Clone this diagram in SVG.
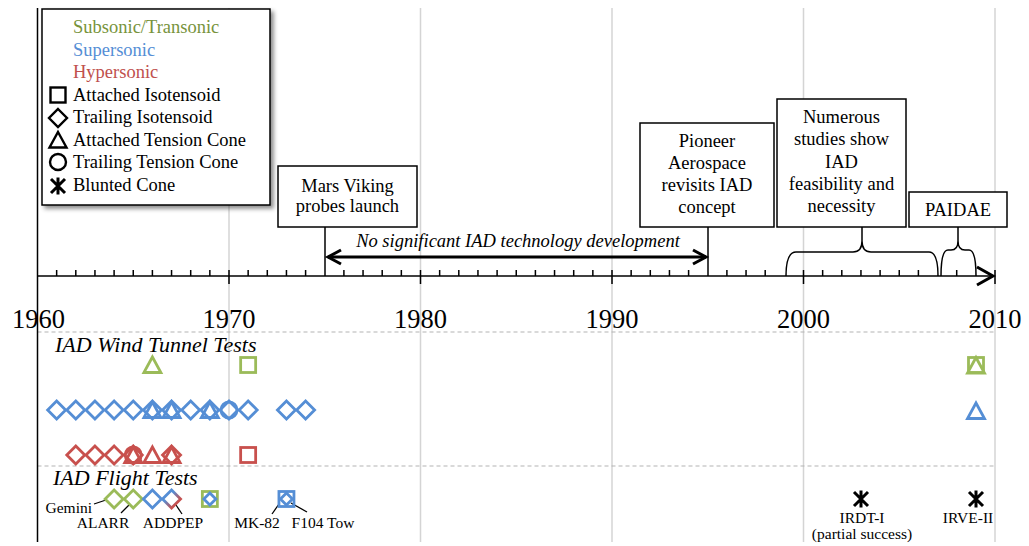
<svg xmlns="http://www.w3.org/2000/svg" xmlns:xlink="http://www.w3.org/1999/xlink" width="1029" height="546" viewBox="0 0 1029 546">
<style>
text{font-family:"Liberation Serif","Times New Roman",serif;fill:#000}
.lg{font-size:18.5px}
.bx{font-size:18.5px;text-anchor:middle}
.yr{font-size:26.5px;text-anchor:middle}
.it{font-style:italic}
.sec{font-size:22px;font-style:italic}
.lb{font-size:15.5px}
.mid{text-anchor:middle}
.grid{stroke:#d4d4d4;stroke-width:1.5;fill:none}
.dash{stroke:#b4b4b4;stroke-width:1.2;stroke-dasharray:4 3;fill:none}
.ax{stroke:#000;stroke-width:1.5;fill:none}
.box{fill:#fff;stroke:#000;stroke-width:1.5}
.g{stroke:#9BBB59;fill:none;stroke-width:2.8}
.b{stroke:#558ED5;fill:none;stroke-width:2.8}
.r{stroke:#C8504D;fill:none;stroke-width:2.8}
.k{stroke:#000;fill:none;stroke-width:2.4}
.ka{stroke:#000;fill:none;stroke-width:3}
.ldr{stroke:#000;stroke-width:1.3;fill:none}
</style>
<defs>
<filter id="sh" x="-10%" y="-10%" width="130%" height="130%">
<feDropShadow dx="3" dy="3" stdDeviation="2" flood-color="#000" flood-opacity="0.45"/>
</filter>
<linearGradient id="gr" x1="0" y1="0" x2="1" y2="1">
<stop offset="0.35" stop-color="#558ED5"/>
<stop offset="0.75" stop-color="#C8504D"/>
</linearGradient>
<polygon id="dia" points="0,-9 9,0 0,9 -9,0"/>
<polygon id="dias" points="0,-6 6,0 0,6 -6,0"/>
<rect id="sq" x="-7.5" y="-7.5" width="15" height="15"/>
<polygon id="tri" points="0,-8 8.5,7.5 -8.5,7.5"/>
<circle id="cir" r="8"/>
<path id="ast" d="M0,-8.5V8.5M-7,-7L7,7M-7,7L7,-7"/>
</defs>

<!-- grid -->
<g id="grid">
<line class="grid" x1="229" y1="8" x2="229" y2="542"/>
<line class="grid" x1="420.5" y1="8" x2="420.5" y2="542"/>
<line class="grid" x1="612" y1="8" x2="612" y2="542"/>
<line class="grid" x1="803.5" y1="8" x2="803.5" y2="542"/>
<line class="grid" x1="995" y1="8" x2="995" y2="542"/>
<line class="dash" x1="37.5" y1="332" x2="995" y2="332"/>
<line class="dash" x1="37.5" y1="466" x2="995" y2="466"/>
<line class="ax" x1="37.5" y1="8" x2="37.5" y2="542"/>
</g>

<!-- axis -->
<g id="axis">
<line class="ax" x1="37.5" y1="276" x2="993" y2="276"/>
<path class="ax" d="M56.65,270V276M75.8,270V276M94.95,270V276M114.1,270V276M133.25,270V276M152.4,270V276M171.55,270V276M190.7,270V276M209.85,270V276
M248.15,270V276M267.3,270V276M286.45,270V276M305.6,270V276M343.9,270V276M363.05,270V276M382.2,270V276M401.35,270V276
M439.65,270V276M458.8,270V276M477.95,270V276M497.1,270V276M516.25,270V276M535.4,270V276M554.55,270V276M573.7,270V276M592.85,270V276
M631.15,270V276M650.3,270V276M669.45,270V276M688.6,270V276M726.9,270V276M746.05,270V276M765.2,270V276
M822.65,270V276M841.8,270V276M860.95,270V276M880.1,270V276M899.25,270V276M918.4,270V276M956.7,270V276"/>
<path class="ax" d="M229,270V284M420.5,270V284M612,270V284M803.5,270V284M995,270V284"/>
<polyline points="977,267 993,276 977,285" fill="none" stroke="#000" stroke-width="3"/>
<text class="yr" x="38.5" y="328">1960</text>
<text class="yr" x="229" y="328">1970</text>
<text class="yr" x="420.5" y="328">1980</text>
<text class="yr" x="612" y="328">1990</text>
<text class="yr" x="803.5" y="328">2000</text>
<text class="yr" x="995" y="328">2010</text>
</g>

<!-- connectors -->
<g id="connectors">
<line class="ax" x1="325" y1="227" x2="325" y2="276"/>
<line class="ax" x1="708" y1="227" x2="708" y2="276"/>
<line x1="328" y1="257" x2="706" y2="257" stroke="#000" stroke-width="3"/>
<polyline points="341,250 328,257 341,264" fill="none" stroke="#000" stroke-width="3"/>
<polyline points="693,250 706,257 693,264" fill="none" stroke="#000" stroke-width="3"/>
<path class="ax" d="M786,276Q786,252 796,252L853,252Q862,252 862,241V227M862,241Q862,252 871,252L929,252Q938,252 938,276"/>
<path class="ax" d="M941,276Q941,250 948,250L951,250Q958,250 958,241V227M958,241Q958,250 965,250L969,250Q976,250 976,276"/>
<line class="ldr" x1="94" y1="504" x2="106" y2="500"/>
<line class="ldr" x1="121" y1="513" x2="129" y2="505"/>
<line class="ldr" x1="182" y1="514" x2="176" y2="505"/>
<line class="ldr" x1="272" y1="514" x2="279" y2="504"/>
<line class="ldr" x1="291" y1="503" x2="307" y2="512"/>
</g>
<text class="sec" x="55" y="352">IAD Wind Tunnel Tests</text>
<text class="sec" x="53" y="485">IAD Flight Tests</text>
<text class="it mid" x="518" y="247" style="font-size:18.5px">No significant IAD technology development</text>

<!-- legend -->
<g id="legend">
<rect x="42" y="9" width="228" height="196" class="box" filter="url(#sh)"/>
<text class="lg" x="73" y="33" style="fill:#77933C">Subsonic/Transonic</text>
<text class="lg" x="73" y="55.5" style="fill:#558ED5">Supersonic</text>
<text class="lg" x="73" y="78" style="fill:#C0504D">Hypersonic</text>
<text class="lg" x="73" y="100.5">Attached Isotensoid</text>
<text class="lg" x="73" y="123">Trailing Isotensoid</text>
<text class="lg" x="73" y="145.5">Attached Tension Cone</text>
<text class="lg" x="73" y="168">Trailing Tension Cone</text>
<text class="lg" x="73" y="190.5">Blunted Cone</text>
<use href="#sq" x="58" y="95" class="k"/>
<use href="#dia" x="58" y="118" class="k"/>
<use href="#tri" x="58" y="140" class="k"/>
<use href="#cir" x="58" y="162" class="k"/>
<use href="#ast" x="58" y="186" class="ka"/>
</g>

<!-- event boxes -->
<g id="mars-viking">
<rect x="278" y="166" width="139" height="61" class="box"/>
<text class="bx" x="347.5" y="192">Mars Viking</text>
<text class="bx" x="347.5" y="212">probes launch</text>
</g>
<g id="pioneer">
<rect x="640" y="123" width="134" height="104" class="box"/>
<text class="bx" x="707" y="147">Pioneer</text>
<text class="bx" x="707" y="169">Aerospace</text>
<text class="bx" x="707" y="191">revisits IAD</text>
<text class="bx" x="707" y="213">concept</text>
</g>
<g id="numerous">
<rect x="777" y="99" width="129" height="128" class="box"/>
<text class="bx" x="841.5" y="123">Numerous</text>
<text class="bx" x="841.5" y="145">studies show</text>
<text class="bx" x="841.5" y="168">IAD</text>
<text class="bx" x="841.5" y="190">feasibility and</text>
<text class="bx" x="841.5" y="212">necessity</text>
</g>
<g id="paidae">
<rect x="909" y="192" width="98" height="35" class="box"/>
<text class="bx" x="958" y="216">PAIDAE</text>
</g>

<!-- wind tunnel markers -->
<g id="wt-subsonic">
<use href="#tri" x="152.4" y="365" class="g"/>
<use href="#sq" x="248.15" y="365" class="g"/>
<use href="#sq" x="976" y="365" class="g"/>
<use href="#tri" x="976" y="365.5" class="g"/>
</g>
<g id="wt-supersonic">
<use href="#dia" x="56.65" y="410" class="b"/>
<use href="#dia" x="75.8" y="410" class="b"/>
<use href="#dia" x="94.95" y="410" class="b"/>
<use href="#dia" x="114.1" y="410" class="b"/>
<use href="#dia" x="133.25" y="410" class="b"/>
<use href="#dia" x="152.4" y="410" class="b"/>
<use href="#tri" x="152.4" y="410" class="b"/>
<use href="#dia" x="171.55" y="410" class="b"/>
<use href="#tri" x="171.55" y="410" class="b"/>
<use href="#dia" x="190.7" y="410" class="b"/>
<use href="#dia" x="209.85" y="410" class="b"/>
<use href="#tri" x="209.85" y="410" class="b"/>
<use href="#dia" x="229" y="410" class="b"/>
<use href="#cir" x="229" y="410" class="b"/>
<use href="#dia" x="248.15" y="410" class="b"/>
<use href="#dia" x="286.45" y="410" class="b"/>
<use href="#dia" x="305.6" y="410" class="b"/>
<use href="#tri" x="976" y="411" class="b"/>
</g>
<g id="wt-hypersonic">
<use href="#dia" x="75.8" y="455" class="r"/>
<use href="#dia" x="94.95" y="455" class="r"/>
<use href="#dia" x="114.1" y="455" class="r"/>
<use href="#dia" x="133.25" y="455" class="r"/>
<use href="#cir" x="133.25" y="455" class="r"/>
<use href="#tri" x="133.25" y="455" class="r"/>
<use href="#tri" x="152.4" y="455" class="r"/>
<use href="#dia" x="171.55" y="455" class="r"/>
<use href="#tri" x="171.55" y="455" class="r"/>
<use href="#sq" x="248.15" y="455" class="r"/>
</g>

<!-- flight tests -->
<g id="flight-tests">
<use href="#dia" x="114.1" y="499" class="g"/>
<use href="#dia" x="133.25" y="499" class="g"/>
<use href="#dia" x="152.4" y="499" class="b"/>
<use href="#dia" x="171.55" y="499" class="b" style="stroke:url(#gr)"/>
<use href="#sq" x="209.85" y="499" class="g"/>
<use href="#dias" x="209.85" y="499" class="b"/>
<use href="#sq" x="286.45" y="499" class="b"/>
<use href="#dias" x="286.45" y="499" class="b"/>
<use href="#ast" x="861" y="499" class="ka"/>
<use href="#ast" x="976" y="499" class="ka"/>
<text class="lb" x="92" y="513" text-anchor="end">Gemini</text>
<text class="lb mid" x="103" y="528">ALARR</text>
<text class="lb mid" x="173" y="528">ADDPEP</text>
<text class="lb mid" x="257" y="528">MK-82</text>
<text class="lb mid" x="323" y="528">F104 Tow</text>
<text class="lb mid" x="862" y="523">IRDT-I</text>
<text class="lb mid" x="862" y="539">(partial success)</text>
<text class="lb mid" x="968" y="523">IRVE-II</text>
</g>
</svg>
